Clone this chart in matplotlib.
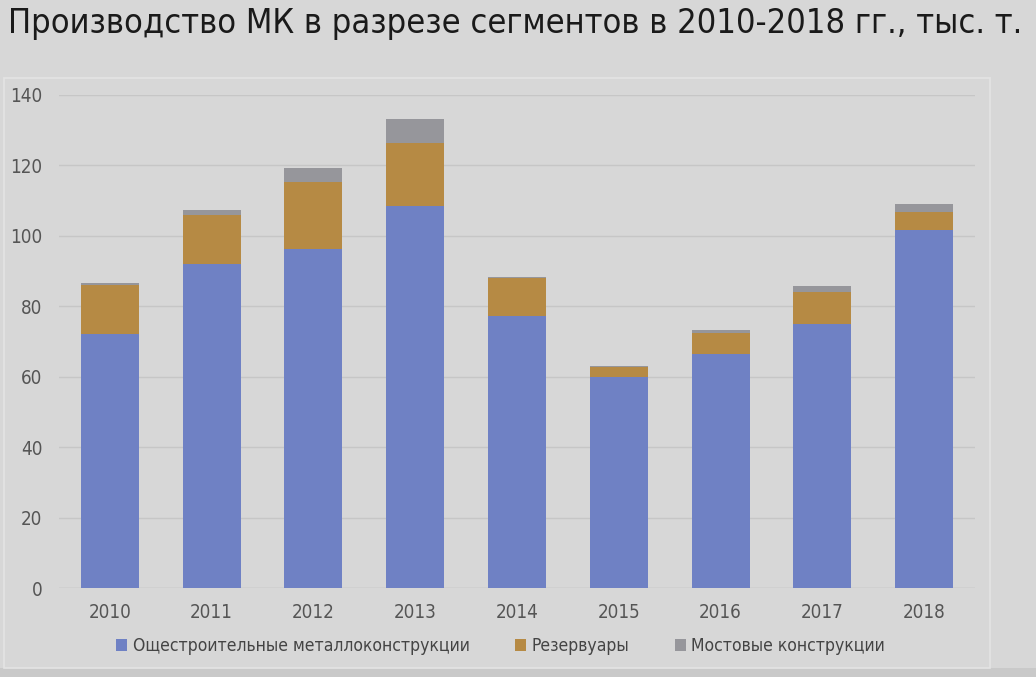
import matplotlib
matplotlib.use('Agg')
import matplotlib.pyplot as plt
import numpy as np
from matplotlib.patches import Rectangle

plt.rcParams['font.family'] = ['DejaVu Sans']
plt.rcParams['font.stretch'] = 'condensed'

years = ['2010', '2011', '2012', '2013', '2014', '2015', '2016', '2017', '2018']
general = [72.0, 92.0, 96.2, 108.6, 77.1, 60.0, 66.5, 74.9, 101.7]
tanks = [14.1, 14.0, 19.2, 17.9, 11.0, 2.8, 5.8, 9.1, 5.1]
bridges = [0.5, 1.3, 3.8, 6.6, 0.3, 0.3, 1.0, 1.8, 2.3]
labels = ['Ощестроительные металлоконструкции', 'Резервуары', 'Мостовые конструкции']
title = 'Производство МК в разрезе сегментов в 2010-2018 гг., тыс. т.'

bg = '#d7d7d7'
c_blue = '#6f81c4'
c_orange = '#b68a44'
c_gray = '#96969b'

fig = plt.figure(figsize=(10.36, 6.77), dpi=100, facecolor=bg)
# lower strip below the chart box is a bit darker
fig.add_artist(Rectangle((0, 0), 1, 1-668/677, transform=fig.transFigure,
                         facecolor='#c9c9c9', edgecolor='none', zorder=-2))
fig.add_artist(Rectangle((4/1036, 1-668/677), 986/1036, 590/677, transform=fig.transFigure,
                         facecolor=bg, edgecolor='#e4e4e4', lw=1.2, zorder=-1))
fig.text(8/1036, 1-24/677, title, fontsize=24.7, color='#1a1a1a', va='center', ha='left')

ax = fig.add_axes([59/1036, 1-588/677, 916/1036, 493/677])
ax.patch.set_alpha(0)
x = np.arange(len(years))
w = 0.57
ax.bar(x, general, w, color=c_blue, label=labels[0], zorder=3)
ax.bar(x, tanks, w, bottom=general, color=c_orange, label=labels[1], zorder=3)
bottom2 = np.array(general) + np.array(tanks)
ax.bar(x, bridges, w, bottom=bottom2, color=c_gray, label=labels[2], zorder=3)

ax.set_xlim(-0.5, 8.5)
ax.set_ylim(0, 140)
ax.set_yticks(np.arange(0, 141, 20))
ax.set_xticks(x)
ax.set_xticklabels(years)
ax.yaxis.grid(True, color='#c6c6c6', lw=1, zorder=0)
for s in ax.spines.values():
    s.set_visible(False)
ax.axhline(0, color='#c6c6c6', lw=1, zorder=2)
ax.tick_params(length=0, labelsize=13.5, colors='#555555')
ax.tick_params(axis='x', pad=11)
ax.tick_params(axis='y', pad=12)

ax.legend(loc='upper center', bbox_to_anchor=(0.482, -0.068), ncol=3, frameon=False,
          fontsize=12.6, labelcolor='#444444', handlelength=0.65, handleheight=0.65,
          handletextpad=0.3, columnspacing=2.6)

fig.savefig('out.png', dpi=100, facecolor=bg)
